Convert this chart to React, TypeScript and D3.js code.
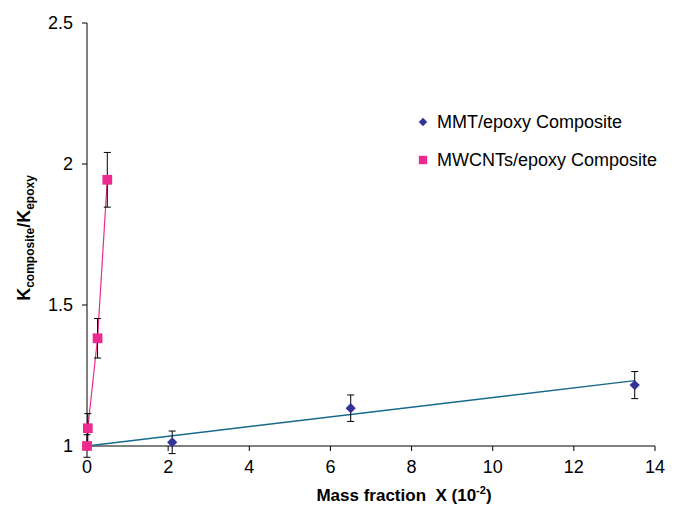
import React from 'react';
import * as d3 from 'd3';

// MMT/epoxy composite
const mmtX = [0, 2.1, 6.5, 13.5];
const mmtY = [1, 1.013, 1.134, 1.216];
const mmtErr = [0, 0.04, 0.047, 0.048];
const mmtFitX = [0, 13.5];
const mmtFitY = [1, 1.232];

// MWCNTs/epoxy composite
const cntX = [0, 0.02, 0.26, 0.5];
const cntY = [1, 1.063, 1.382, 1.944];
const cntErr = [0.04, 0.052, 0.07, 0.097];

const xTicks = [0, 2, 4, 6, 8, 10, 12, 14];
const yTicks = [1, 1.5, 2, 2.5];
const yTickLabels = ['1', '1.5', '2', '2.5'];

const legendItems = ['MMT/epoxy Composite', 'MWCNTs/epoxy Composite'];

const W = 677;
const H = 508;
const FONT = '"Liberation Sans", Arial, sans-serif';
const PINK = '#EC2A8F';
const NAVY = '#333399';
const TEAL = '#17698C';

export default function App() {
  const x = d3.scaleLinear().domain([0, 14]).range([87, 655]);
  const y = d3.scaleLinear().domain([1, 2.5]).range([446, 23]);

  const line = d3.line<[number, number]>()
    .x(d => x(d[0]))
    .y(d => y(d[1]));

  const mmtFit = mmtFitX.map((v, i) => [v, mmtFitY[i]] as [number, number]);
  const cntPts = cntX.map((v, i) => [v, cntY[i]] as [number, number]);

  // excel style diamond = square turned 45 degrees
  const diamond = d3.symbol().type(d3.symbolSquare).size(52)();
  const square = d3.symbol().type(d3.symbolSquare).size(95)();

  const errBar = (xv: number, yv: number, e: number, key: string) => {
    if (!e) return null;
    const cx = x(xv);
    return (
      <g key={key} stroke="#000" strokeWidth={1}>
        <line x1={cx} x2={cx} y1={y(yv + e)} y2={y(yv - e)} />
        <line x1={cx - 3.5} x2={cx + 3.5} y1={y(yv + e)} y2={y(yv + e)} />
        <line x1={cx - 3.5} x2={cx + 3.5} y1={y(yv - e)} y2={y(yv - e)} />
      </g>
    );
  };

  return (
    <svg width={W} height={H} style={{ position: 'absolute', left: 0, top: 0, background: '#fff' }}
      fontFamily={FONT}>
      {/* axes */}
      <line x1={x(0)} x2={x(0)} y1={y(2.5)} y2={y(1)} stroke="#000" strokeWidth={1} />
      <line x1={x(0)} x2={x(14)} y1={y(1)} y2={y(1)} stroke="#000" strokeWidth={1} />
      {yTicks.map((t, i) => (
        <g key={'yt' + t}>
          <line x1={x(0) - 5} x2={x(0)} y1={y(t)} y2={y(t)} stroke="#000" />
          <text x={x(0) - 14} y={y(t)} dy="0.35em" textAnchor="end" fontSize={18} fill="#000">
            {yTickLabels[i]}
          </text>
        </g>
      ))}
      {xTicks.map(t => (
        <g key={'xt' + t}>
          <line x1={x(t)} x2={x(t)} y1={y(1)} y2={y(1) + 5} stroke="#000" />
          <text x={x(t)} y={473} textAnchor="middle" fontSize={18} fill="#000">{t}</text>
        </g>
      ))}

      {/* axis titles */}
      <text x={404} y={501} textAnchor="middle" fontSize={17} fontWeight="bold" fill="#000"
        style={{ whiteSpace: 'pre' }}>
        {'Mass fraction  X (10'}
        <tspan fontSize={11} dy={-7}>-2</tspan>
        <tspan dy={7}>)</tspan>
      </text>
      <text transform="translate(30,238) rotate(-90)" textAnchor="middle" fontSize={18}
        fontWeight="bold" fill="#000">
        K<tspan fontSize={12} dy={4}>composite</tspan>
        <tspan dy={-4}>/K</tspan>
        <tspan fontSize={12} dy={4}>epoxy</tspan>
      </text>

      {/* MMT series */}
      <path d={line(mmtFit) || ''} fill="none" stroke={TEAL} strokeWidth={1.4} />
      {mmtX.map((v, i) => errBar(v, mmtY[i], mmtErr[i], 'me' + i))}
      {mmtX.map((v, i) => (
        <path key={'m' + i} d={diamond || ''}
          transform={`translate(${x(v)},${y(mmtY[i])}) rotate(45)`} fill={NAVY} />
      ))}

      {/* MWCNT series */}
      <path d={line(cntPts) || ''} fill="none" stroke={PINK} strokeWidth={1.2} />
      {cntX.map((v, i) => errBar(v, cntY[i], cntErr[i], 'ce' + i))}
      {cntX.map((v, i) => (
        <path key={'c' + i} d={square || ''} transform={`translate(${x(v)},${y(cntY[i])})`} fill={PINK} />
      ))}

      {/* legend */}
      <g>
        <path d={d3.symbol().type(d3.symbolSquare).size(36)() || ''} transform="translate(423,122) rotate(45)" fill={NAVY} />
        <text x={437} y={122} dy="0.35em" fontSize={18} fill="#000">{legendItems[0]}</text>
        <path d={d3.symbol().type(d3.symbolSquare).size(70)() || ''} transform="translate(423,160)" fill={PINK} />
        <text x={437} y={160} dy="0.35em" fontSize={18} fill="#000">{legendItems[1]}</text>
      </g>
    </svg>
  );
}
